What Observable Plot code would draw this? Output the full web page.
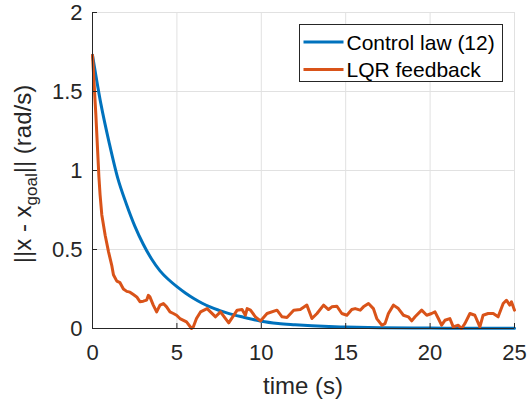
<!DOCTYPE html>
<html>
<head>
<meta charset="utf-8">
<script src="https://cdn.jsdelivr.net/npm/d3@7"></script>
<script src="https://cdn.jsdelivr.net/npm/@observablehq/plot@0.6"></script>
<style>
  html, body { margin: 0; padding: 0; background: #fff; }
  #chart svg { display: block; }
</style>
</head>
<body>
<div id="chart"></div>
<script>
// ---- data ----
const seriesNames = ["Control law (12)", "LQR feedback"];
const seriesColors = ["#0072BD", "#D95319"];

const xTicks = [0, 5, 10, 15, 20, 25];
const yTicks = [0, 0.5, 1, 1.5, 2];
const yTickLabels = ["0", "0.5", "1", "1.5", "2"];

const tControl = [0, 0.5, 1, 1.5, 2, 2.5, 3, 3.5, 4, 4.5, 5, 5.5, 6, 6.5, 7, 7.5, 8, 9, 10, 11, 12, 13, 14, 15, 17, 19, 21, 23, 25];
const vControl = [1.73, 1.42, 1.17, 0.95, 0.79, 0.65, 0.535, 0.44, 0.365, 0.31, 0.265, 0.225, 0.19, 0.16, 0.135, 0.115, 0.097, 0.07, 0.046, 0.032, 0.024, 0.017, 0.012, 0.009, 0.005, 0.003, 0.002, 0.001, 0.001];

const tLqr = [0, 0.2, 0.38, 0.45, 0.55, 0.75, 0.95, 1.14, 1.24, 1.44, 1.63, 1.83, 2.03, 2.22, 2.42, 2.62, 2.81, 3.01, 3.21, 3.31, 3.4, 3.6, 3.8, 4.0, 4.2, 4.39, 4.59, 4.79, 4.98, 5.18, 5.57, 5.87, 5.97, 6.16, 6.4, 6.79, 7.29, 7.58, 8.07, 8.57, 8.86, 9.06, 9.16, 9.36, 9.65, 9.95, 10.34, 10.93, 11.23, 11.52, 11.92, 12.31, 12.7, 13.0, 13.3, 13.69, 13.98, 14.18, 14.48, 14.77, 15.07, 15.36, 15.56, 15.86, 16.05, 16.35, 16.64, 16.84, 17.14, 17.33, 17.53, 17.83, 18.12, 18.42, 18.71, 18.91, 19.11, 19.5, 19.8, 20.09, 20.29, 20.49, 20.68, 20.88, 21.17, 21.37, 21.67, 21.86, 22.06, 22.36, 22.65, 22.95, 23.14, 23.44, 23.74, 24.03, 24.33, 24.52, 24.72, 24.82, 25.0];
const vLqr = [1.73, 1.35, 0.96, 0.845, 0.72, 0.59, 0.485, 0.40, 0.34, 0.30, 0.29, 0.25, 0.235, 0.23, 0.215, 0.20, 0.17, 0.173, 0.18, 0.21, 0.20, 0.148, 0.105, 0.148, 0.158, 0.137, 0.105, 0.095, 0.084, 0.063, 0.042, 0.0, 0.01, 0.063, 0.105, 0.126, 0.074, 0.105, 0.036, 0.116, 0.12, 0.084, 0.126, 0.116, 0.074, 0.048, 0.095, 0.116, 0.074, 0.07, 0.116, 0.12, 0.148, 0.063, 0.095, 0.148, 0.12, 0.137, 0.141, 0.095, 0.084, 0.12, 0.126, 0.116, 0.137, 0.158, 0.126, 0.063, 0.021, 0.031, 0.095, 0.148, 0.126, 0.084, 0.074, 0.048, 0.074, 0.116, 0.084, 0.095, 0.105, 0.063, 0.021, 0.052, 0.063, 0.01, 0.021, 0.0, 0.031, 0.095, 0.084, 0.01, 0.084, 0.095, 0.095, 0.074, 0.158, 0.179, 0.148, 0.169, 0.116];

const xLabel = "time (s)";

// ---- build tables ----
const control = tControl.map((t, i) => ({t, v: vControl[i]}));
const lqr = tLqr.map((t, i) => ({t, v: vLqr[i]}));

const FONT = "'Liberation Sans', Arial, Helvetica, sans-serif";
const TEXT = "#262626";
const GRID = "#e1e1e1";

const plot = Plot.plot({
  width: 529,
  height: 406,
  marginLeft: 92,
  marginRight: 15,
  marginTop: 12,
  marginBottom: 78,
  style: {fontFamily: FONT, fontSize: "22px", color: TEXT, background: "#fff"},
  x: {domain: [0, 25], label: null},
  y: {domain: [0, 2], label: null},
  marks: [
    Plot.gridX(xTicks, {stroke: GRID, strokeOpacity: 1, strokeWidth: 1}),
    Plot.gridY(yTicks, {stroke: GRID, strokeOpacity: 1, strokeWidth: 1}),
    Plot.line(control, {x: "t", y: "v", stroke: seriesColors[0], strokeWidth: 3, curve: "monotone-x"}),
    Plot.line(lqr, {x: "t", y: "v", stroke: seriesColors[1], strokeWidth: 3, strokeLinejoin: "round"}),
    Plot.ruleX([0], {stroke: TEXT, strokeWidth: 1}),
    Plot.ruleY([0], {stroke: TEXT, strokeWidth: 1}),
    Plot.axisX(xTicks, {tickSize: -5, tickPadding: 21, fontSize: 22, stroke: TEXT, fill: TEXT, label: null}),
    Plot.axisY(yTicks, {tickSize: -5, tickPadding: 15, fontSize: 22, stroke: TEXT, fill: TEXT, label: null,
      tickFormat: (d) => yTickLabels[yTicks.indexOf(d)]})
  ]
});

document.getElementById("chart").appendChild(plot);

// ---- labels and legend (positions derived from the scales) ----
const svg = d3.select(plot);
const [x0, x1] = plot.scale("x").range;
const [yb, yt] = plot.scale("y").range;
const cx = (x0 + x1) / 2;
const cy = (yb + yt) / 2;

svg.append("text")
  .attr("x", cx).attr("y", yb + 66)
  .attr("text-anchor", "middle")
  .attr("font-family", FONT).attr("font-size", 24).attr("fill", TEXT)
  .text(xLabel);

const yl = svg.append("text")
  .attr("transform", `translate(${x0 - 61},${cy + 4}) rotate(-90)`)
  .attr("text-anchor", "middle")
  .attr("font-family", FONT).attr("font-size", 24).attr("fill", TEXT);
yl.append("tspan").text("||x - x");
yl.append("tspan").attr("font-size", 17).attr("dy", 6).text("goal");
yl.append("tspan").attr("dy", -6).text("|| (rad/s)");

// legend box in the upper right of the frame
const lgW = 203, lgH = 57;
const lgX = x1 - 12 - lgW, lgY = yt + 12;
const lg = svg.append("g").attr("transform", `translate(${lgX + 0.5},${lgY + 0.5})`)
  .attr("text-anchor", "start");
lg.append("rect").attr("width", lgW).attr("height", lgH)
  .attr("fill", "#fff").attr("stroke", TEXT).attr("stroke-width", 1);
seriesNames.forEach((name, i) => {
  const ry = 17.5 + i * 27.5;
  lg.append("line").attr("x1", 4).attr("x2", 44).attr("y1", ry).attr("y2", ry)
    .attr("stroke", seriesColors[i]).attr("stroke-width", 3);
  lg.append("text").attr("x", 47).attr("y", ry).attr("dy", "0.36em")
    .attr("text-anchor", "start")
    .attr("font-family", FONT).attr("font-size", 21).attr("fill", "#000")
    .text(name);
});
</script>
</body>
</html>
